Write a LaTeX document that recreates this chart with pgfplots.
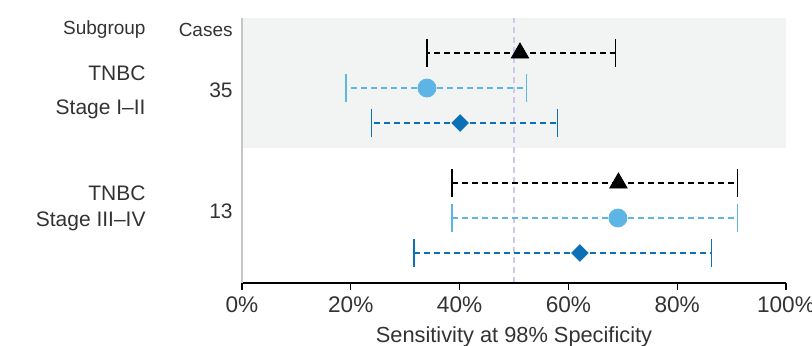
\documentclass[border=0pt]{standalone}
\usepackage{pgfplots}
\pgfplotsset{compat=1.18}
\usepackage{fontspec}
\setmainfont{Liberation Sans}
\definecolor{txt}{HTML}{333333}
\definecolor{band}{HTML}{F2F3F3}
\definecolor{lblue}{HTML}{5DB5E5}
\definecolor{dblue}{HTML}{0B70B5}
\definecolor{refl}{HTML}{CEC8EA}
\begin{document}
\begin{tikzpicture}
\begin{axis}[
  at={(0,0)}, anchor=south west,
  scale only axis, width=272pt, height=132.5pt,
  xmin=0, xmax=100, ymin=0, ymax=265,
  clip=false, axis on top,
  axis x line*=bottom, axis y line*=left,
  y axis line style={draw=gray!45, line width=0.6pt},
  x axis line style={draw=black, line width=0.6pt},
  ytick=\empty,
  xtick={0,20,40,60,80,100},
  xticklabels={0\%,20\%,40\%,60\%,80\%,100\%},
  tick align=outside, major tick length=3.5pt,
  tick style={black, line width=0.6pt},
  xtick pos=bottom,
  ticklabel style={font=\fontsize{11.3}{13}\selectfont, text=txt},
  xlabel={Sensitivity at 98\% Specificity},
  xlabel style={font=\fontsize{10.9}{12}\selectfont, text=txt, yshift=0pt},
]
\fill[band] (axis cs:0,135) rectangle (axis cs:100,265);
\addplot[refl, line width=0.7pt, dash pattern=on 3pt off 2pt] coordinates {(50,0) (50,265)};

\pgfplotsset{ebar/.style={
  error bars/.cd, x dir=both, x explicit, error mark=|,
  error bar style={#1, line width=0.75pt, dash pattern=on 3pt off 2pt},
  error mark options={#1, solid, line width=0.75pt, mark size=7pt}}}

% triangles (black)
\addplot[only marks, mark=triangle*, mark size=5pt, color=black, ebar=black]
  coordinates {(51.1,230) += (17.6,0) -= (17.1,0)
               (69.2,100) += (21.9,0) -= (30.6,0)};
% circles (light blue)
\addplot[only marks, mark=*, mark size=4.5pt, color=lblue, ebar=lblue]
  coordinates {(34.0,195) += (18.3,0) -= (14.9,0)
               (69.1,65) += (22.0,0) -= (30.5,0)};
% diamonds (dark blue)
\addplot[only marks, mark=square*, mark size=2.9pt, mark options={rotate=45}, color=dblue, ebar=dblue]
  coordinates {(40.1,160) += (17.9,0) -= (16.3,0)
               (62.1,30) += (24.2,0) -= (30.5,0)};

\begin{scope}[every node/.style={text=txt, anchor=east, inner sep=0pt}]
\node[font=\fontsize{9.5}{11}\selectfont] at (axis cs:-17.65,253) {Subgroup};
\node[font=\fontsize{9.5}{11}\selectfont] at (axis cs:-1.65,253) {Cases};
\node[font=\fontsize{10.5}{12}\selectfont] at (axis cs:-17.65,210) {TNBC};
\node[font=\fontsize{10.5}{12}\selectfont] at (axis cs:-17.65,174) {Stage I--II};
\node[font=\fontsize{10.5}{12}\selectfont] at (axis cs:-1.65,193) {35};
\node[font=\fontsize{10.5}{12}\selectfont] at (axis cs:-17.65,90) {TNBC};
\node[font=\fontsize{10.5}{12}\selectfont] at (axis cs:-17.65,62) {Stage III--IV};
\node[font=\fontsize{10.5}{12}\selectfont] at (axis cs:-1.65,72) {13};
\end{scope}
\end{axis}
\pgfresetboundingbox
\path (-121pt,-31pt) rectangle (285pt,141.5pt);
\end{tikzpicture}
\end{document}
